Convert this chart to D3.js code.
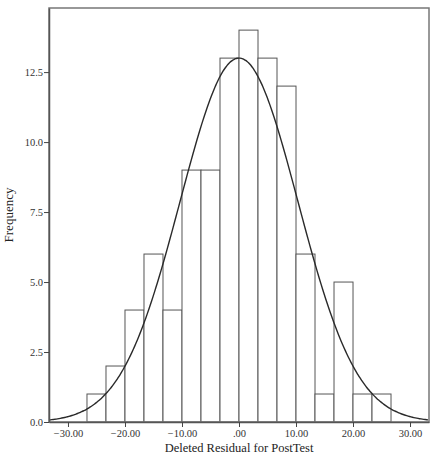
<!DOCTYPE html>
<html>
<head>
<meta charset="utf-8">
<script src="https://cdn.jsdelivr.net/npm/d3@7"></script>
<style>
  body { margin: 0; background: #fff; }
  svg { display: block; }
</style>
</head>
<body>
<div id="chart"></div>
<script>
// Histogram bins (lower edges) and counts
const binStarts = [-26.667, -23.333, -20, -16.667, -13.333, -10, -6.667, -3.333, 0, 3.333, 6.667, 10, 13.333, 16.667, 20, 23.333];
const binWidth = 3.3333;
const counts = [1, 2, 4, 6, 4, 9, 9, 13, 14, 13, 12, 6, 1, 5, 1, 1];

// normal fit parameters
const fitMean = 0;
const fitSd = 10.33;

const xTicks = [-30, -20, -10, 0, 10, 20, 30];
const yTicks = [0, 2.5, 5, 7.5, 10, 12.5];

const width = 434;
const height = 455;
const margin = { left: 49, top: 8, right: 5, bottom: 33 };

const svg = d3.select('#chart')
    .append('svg')
    .attr('width', width)
    .attr('height', height);

const x = d3.scaleLinear()
    .domain([-33.33, 33.33])
    .range([margin.left, width - margin.right]);

const y = d3.scaleLinear()
    .domain([0, 14.79])
    .range([height - margin.bottom, margin.top]);

const bins = binStarts.map((s, i) => ({ x0: s, x1: s + binWidth, n: counts[i] }));
const total = d3.sum(counts);

// bars
svg.append('g')
    .selectAll('rect')
    .data(bins)
    .enter()
    .append('rect')
    .attr('x', d => x(d.x0))
    .attr('y', d => y(d.n))
    .attr('width', d => x(d.x1) - x(d.x0))
    .attr('height', d => y(0) - y(d.n))
    .attr('fill', '#fff')
    .attr('stroke', '#555')
    .attr('stroke-width', 1);

// normal curve
const xs = d3.range(-33.33, 33.34, 0.25);
const dens = v => total * binWidth / (fitSd * Math.sqrt(2 * Math.PI)) *
    Math.exp(-((v - fitMean) ** 2) / (2 * fitSd * fitSd));

svg.append('path')
    .datum(xs)
    .attr('d', d3.line().x(v => x(v)).y(v => y(dens(v))).curve(d3.curveBasis))
    .attr('fill', 'none')
    .attr('stroke', '#2a2a2a')
    .attr('stroke-width', 1.4);

// frame
svg.append('rect')
    .attr('x', x.range()[0])
    .attr('y', margin.top)
    .attr('width', x.range()[1] - x.range()[0])
    .attr('height', y(0) - margin.top)
    .attr('fill', 'none')
    .attr('stroke', '#777')
    .attr('stroke-width', 1.5);

const fmtX = d => d3.format('.2f')(d).replace(/^0\./, '.').replace(/^-0\./, '-.');

const xAxis = svg.append('g')
    .attr('transform', `translate(0,${y(0)})`)
    .call(d3.axisBottom(x).tickValues(xTicks).tickFormat(fmtX).tickSize(5).tickSizeOuter(0));

const yAxis = svg.append('g')
    .attr('transform', `translate(${x.range()[0]},0)`)
    .call(d3.axisLeft(y).tickValues(yTicks).tickFormat(d3.format('.1f')).tickSize(5).tickSizeOuter(0));

[xAxis, yAxis].forEach(g => {
    g.select('.domain').attr('stroke', '#555').attr('stroke-width', 1.5);
    g.selectAll('.tick line').attr('stroke', '#444');
    g.selectAll('.tick text')
        .attr('fill', '#333')
        .style('font-family', '"Liberation Serif", serif')
        .style('font-size', '10.5px');
});
yAxis.selectAll('.tick text').attr('x', -6);
xAxis.selectAll('.tick text').attr('y', 8);

// axis titles
svg.append('text')
    .attr('x', (x.range()[0] + x.range()[1]) / 2)
    .attr('y', 452)
    .attr('text-anchor', 'middle')
    .style('font-family', '"Liberation Serif", serif')
    .style('font-size', '12.5px')
    .attr('fill', '#222')
    .text('Deleted Residual for PostTest');

svg.append('text')
    .attr('transform', `translate(13,${(y(0) + margin.top) / 2}) rotate(-90)`)
    .attr('text-anchor', 'middle')
    .style('font-family', '"Liberation Serif", serif')
    .style('font-size', '13px')
    .attr('fill', '#222')
    .text('Frequency');
</script>
</body>
</html>
